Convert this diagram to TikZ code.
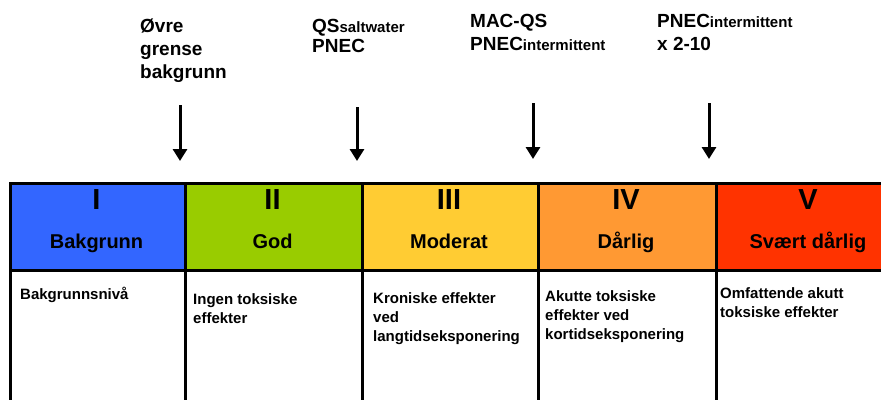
\documentclass[tikz,border=0pt]{standalone}
\usepackage{fontspec}
\setmainfont{Liberation Sans}
\usetikzlibrary{arrows.meta}
\usetikzlibrary{positioning}
\definecolor{fg}{rgb}{0,0,0}
\definecolor{klI}{HTML}{3366FF}
\definecolor{klII}{HTML}{99CC00}
\definecolor{klIII}{HTML}{FFCC33}
\definecolor{klIV}{HTML}{FF9933}
\definecolor{klV}{HTML}{FF3300}
\tikzstyle{klasse}=[draw=fg, line width=3pt, anchor=north west,
minimum height=87pt, inner sep=0pt]
\tikzstyle{celle}=[draw=fg, line width=3pt, anchor=north west,
minimum height=140pt, inner sep=0pt]
\tikzstyle{tall}=[anchor=base, text=fg, font=\fontsize{29}{29}\selectfont\bfseries]
\tikzstyle{navn}=[anchor=base, text=fg, font=\fontsize{20}{20}\selectfont\bfseries]
\tikzstyle{tekst}=[anchor=base west, align=left, inner sep=0pt,
font=\fontsize{15}{19}\selectfont\bfseries]
\tikzstyle{grense}=[anchor=base west, align=left, inner sep=0pt,
font=\fontsize{19}{23}\selectfont\bfseries]
\tikzstyle{myarrow}=[-{Triangle[width=14pt,length=12pt]}, line width=3pt]
\newcommand{\indeks}[1]{{\fontsize{15}{15}\selectfont #1}}

\begin{document}
\begin{tikzpicture}[x=1pt, y=-1pt]
    \useasboundingbox (0, 0) rectangle (881, 399);

    % klassegrenser (base = siste linje)
    \node[grense] (oevre) at (140, 78) {Øvre\\grense\\bakgrunn};
    \node[grense] (qs) at (312, 52) {QS\indeks{saltwater}\\[-3pt]PNEC};
    \node[grense] (macqs) at (470, 50) {MAC-QS\\PNEC\indeks{intermittent}};
    \node[grense] (pnec) at (657, 50) {PNEC\indeks{intermittent}\\x 2-10};

    \coordinate (aI) at (180, 105);   \coordinate (bI) at (180, 161);
    \coordinate (aII) at (357, 107);  \coordinate (bII) at (357, 161);
    \coordinate (aIII) at (533, 103); \coordinate (bIII) at (533, 159);
    \coordinate (aIV) at (709, 103);  \coordinate (bIV) at (709, 159);

    \draw[myarrow] (aI) -- (bI);
    \draw[myarrow] (aII) -- (bII);
    \draw[myarrow] (aIII) -- (bIII);
    \draw[myarrow] (aIV) -- (bIV);

    % tilstandsklasser
    \node[klasse, fill=klI, minimum width=175pt] (kI) at (9, 182) {};
    \node[klasse, fill=klII, minimum width=177pt] (kII) at (184, 182) {};
    \node[klasse, fill=klIII, minimum width=176pt] (kIII) at (361, 182) {};
    \node[klasse, fill=klIV, minimum width=178pt] (kIV) at (537, 182) {};
    \node[klasse, fill=klV, minimum width=186pt] (kV) at (715, 182) {};

    \node[celle, minimum width=175pt] (cI) at (9, 269) {};
    \node[celle, minimum width=177pt] (cII) at (184, 269) {};
    \node[celle, minimum width=176pt] (cIII) at (361, 269) {};
    \node[celle, minimum width=178pt] (cIV) at (537, 269) {};
    \node[celle, minimum width=186pt] (cV) at (715, 269) {};

    \node[tall] (tI) at (96.5, 209) {I};
    \node[tall] (tII) at (272.5, 209) {II};
    \node[tall] (tIII) at (449, 209) {III};
    \node[tall] (tIV) at (626, 209) {IV};
    \node[tall] (tV) at (808, 209) {V};

    \node[navn] (nI) at (96.5, 248) {Bakgrunn};
    \node[navn] (nII) at (272.5, 248) {God};
    \node[navn] (nIII) at (449, 248) {Moderat};
    \node[navn] (nIV) at (626, 248) {Dårlig};
    \node[navn] (nV) at (808, 248) {Svært dårlig};

    \node[tekst] (eI) at (20, 299) {Bakgrunnsnivå};
    \node[tekst] (eII) at (193, 323) {Ingen toksiske\\effekter};
    \node[tekst] (eIII) at (373, 341) {Kroniske effekter\\ved\\langtidseksponering};
    \node[tekst] (eIV) at (545, 339) {Akutte toksiske\\effekter ved\\kortidseksponering};
    \node[tekst] (eV) at (720, 317) {Omfattende akutt\\toksiske effekter};
\end{tikzpicture}
\end{document}
